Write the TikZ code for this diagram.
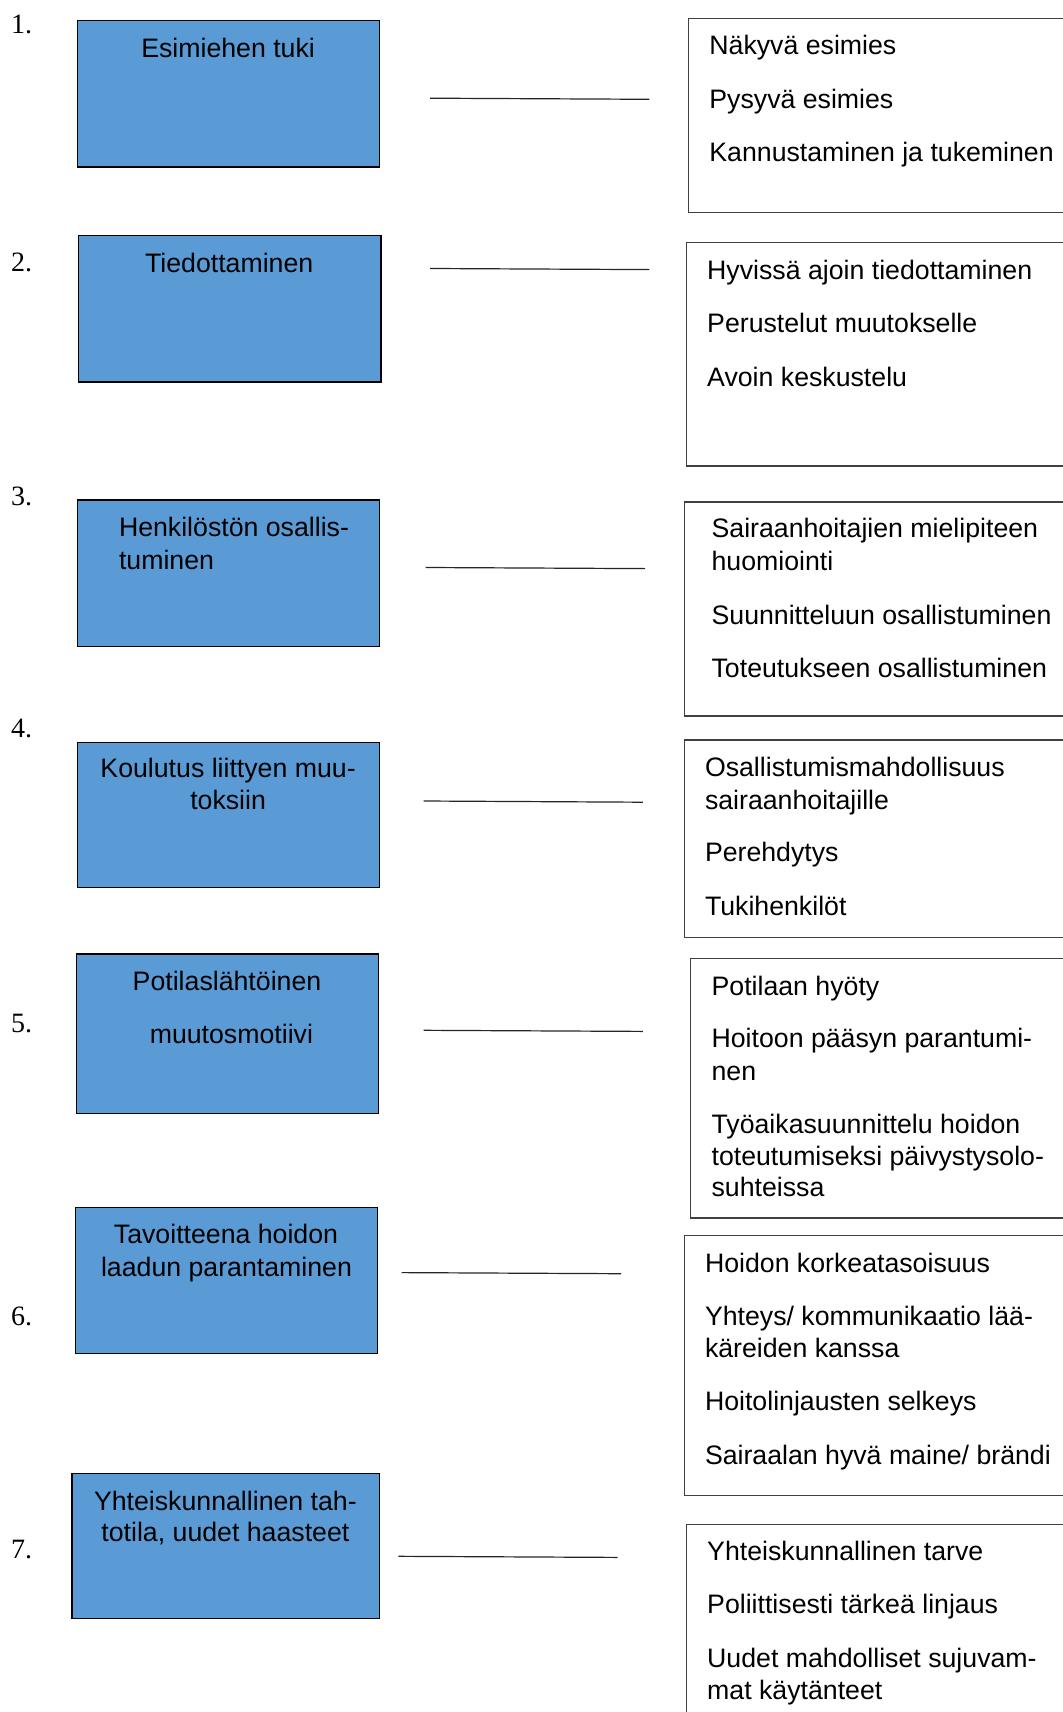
\documentclass[tikz,border=0pt]{standalone}
\usepackage{fontspec}
\setmainfont{Liberation Sans}
\newfontfamily\numfont{Liberation Serif}
\definecolor{boxblue}{HTML}{5B9BD5}
\definecolor{frame}{HTML}{404040}
\begin{document}
\begin{tikzpicture}[x=0.5pt,y=-0.5pt,
  every node/.style={inner sep=0pt,outer sep=0pt,font=\fontsize{13.35pt}{16.35pt}\selectfont},
  bluebox/.style={draw=black,line width=0.6pt,fill=boxblue},
  listbox/.style={draw=frame,line width=0.55pt},
  ltext/.style={anchor=base west},
  ctext/.style={anchor=base},
  numtext/.style={anchor=base west,font=\numfont\fontsize{14pt}{16pt}\selectfont},
  link/.style={draw=black!85,line width=0.6pt}]
\useasboundingbox (0,0) rectangle (1063,1712);
\clip (0,0) rectangle (1063,1712);
\fill[white] (0,0) rectangle (1063,1712);

% numbers
\node[numtext] (n1) at (11,34) {1.};
\node[numtext] (n2) at (11,271.5) {2.};
\node[numtext] (n3) at (11,505) {3.};
\node[numtext] (n4) at (11,737.5) {4.};
\node[numtext] (n5) at (11,1032) {5.};
\node[numtext] (n6) at (11,1325.5) {6.};
\node[numtext] (n7) at (11,1558) {7.};

% blue boxes
\draw[bluebox] (77.5,20.7) rectangle (379.8,167);
\draw[bluebox] (78.6,235.7) rectangle (380.9,382);
\draw[bluebox] (77.5,499.9) rectangle (379.8,646.1);
\draw[bluebox] (77.5,742.2) rectangle (379.8,887.3);
\draw[bluebox] (76.4,953.9) rectangle (378.7,1113.2);
\draw[bluebox] (75.3,1207.1) rectangle (377.6,1353.3);
\draw[bluebox] (72,1473.4) rectangle (379.8,1618.6);

\node[ctext] (b1) at (228.1,57.5) {Esimiehen tuki};
\node[ctext] (b2) at (229.2,272.5) {Tiedottaminen};
\node[ltext] (b3a) at (119,536.6) {Henkilöstön osallis-};
\node[ltext] (b3b) at (119,569.4) {tuminen};
\node[ctext] (b4a) at (228.1,777.8) {Koulutus liittyen muu-};
\node[ctext] (b4b) at (228.1,809.5) {toksiin};
\node[ctext] (b5a) at (227,990.7) {Potilaslähtöinen};
\node[ctext] (b5b) at (231.4,1043.1) {muutosmotiivi};
\node[ctext] (b6a) at (226,1243.9) {Tavoitteena hoidon};
\node[ctext] (b6b) at (226.5,1276.6) {laadun parantaminen};
\node[ctext] (b7a) at (225.4,1510.2) {Yhteiskunnallinen tah-};
\node[ctext] (b7b) at (225.4,1541.8) {totila, uudet haasteet};

% connector lines
\coordinate (l1s) at (430,98.2);   \coordinate (l1e) at (649.4,99.3);
\coordinate (l2s) at (430,268.5);  \coordinate (l2e) at (649.4,269.6);
\coordinate (l3s) at (425.6,567.5);\coordinate (l3e) at (645,568.6);
\coordinate (l4s) at (423.5,801);  \coordinate (l4e) at (642.8,802.2);
\coordinate (l5s) at (423.5,1030.3);\coordinate (l5e) at (642.8,1031.4);
\coordinate (l6s) at (401.6,1272.6);\coordinate (l6e) at (621,1273.7);
\coordinate (l7s) at (398.4,1556.3);\coordinate (l7e) at (617.7,1557.4);
\foreach \i in {1,...,7} {\draw[link] (l\i s) -- (l\i e);}

% right boxes
\draw[listbox] (688.7,18.6) rectangle (1080,212.8);
\draw[listbox] (686.5,242.3) rectangle (1080,466);
\draw[listbox] (684.3,502) rectangle (1080,716);
\draw[listbox] (684.3,740) rectangle (1080,937.5);
\draw[listbox] (690.9,958.3) rectangle (1080,1218);
\draw[listbox] (684.3,1235.5) rectangle (1080,1495.2);
\draw[listbox] (686.5,1524.7) rectangle (1080,1740);

% right texts
\node[ltext] (r1a) at (709.4,54.2) {Näkyvä esimies};
\node[ltext] (r1b) at (709.4,108.8) {Pysyvä esimies};
\node[ltext] (r1c) at (709.4,161.2) {Kannustaminen ja tukeminen};

\node[ltext] (r2a) at (707.2,279.1) {Hyvissä ajoin tiedottaminen};
\node[ltext] (r2b) at (707.2,332.5) {Perustelut muutokselle};
\node[ltext] (r2c) at (707.2,386) {Avoin keskustelu};

\node[ltext] (r3a) at (711.6,537.7) {Sairaanhoitajien mielipiteen};
\node[ltext] (r3b) at (711.6,570.5) {huomiointi};
\node[ltext] (r3c) at (711.6,624) {Suunnitteluun osallistuminen};
\node[ltext] (r3d) at (711.6,677.5) {Toteutukseen osallistuminen};

\node[ltext] (r4a) at (705,776.8) {Osallistumismahdollisuus};
\node[ltext] (r4b) at (705,809.5) {sairaanhoitajille};
\node[ltext] (r4c) at (705,861.9) {Perehdytys};
\node[ltext] (r4d) at (705,915.4) {Tukihenkilöt};

\node[ltext] (r5a) at (711.6,995) {Potilaan hyöty};
\node[ltext] (r5b) at (711.6,1047.5) {Hoitoon pääsyn parantumi-};
\node[ltext] (r5c) at (711.6,1080.2) {nen};
\node[ltext] (r5d) at (711.6,1133.6) {Työaikasuunnittelu hoidon};
\node[ltext] (r5e) at (711.6,1165.3) {toteutumiseksi päivystysolo-};
\node[ltext] (r5f) at (711.6,1196.9) {suhteissa};

\node[ltext] (r6a) at (705,1272.3) {Hoidon korkeatasoisuus};
\node[ltext] (r6b) at (705,1325.7) {Yhteys/ kommunikaatio lää-};
\node[ltext] (r6c) at (705,1357.4) {käreiden kanssa};
\node[ltext] (r6d) at (705,1410.8) {Hoitolinjausten selkeys};
\node[ltext] (r6e) at (705,1464.3) {Sairaalan hyvä maine/ brändi};

\node[ltext] (r7a) at (707.2,1560.4) {Yhteiskunnallinen tarve};
\node[ltext] (r7b) at (707.2,1613.8) {Poliittisesti tärkeä linjaus};
\node[ltext] (r7c) at (707.2,1667.3) {Uudet mahdolliset sujuvam-};
\node[ltext] (r7d) at (707.2,1699) {mat käytänteet};
\end{tikzpicture}
\end{document}
